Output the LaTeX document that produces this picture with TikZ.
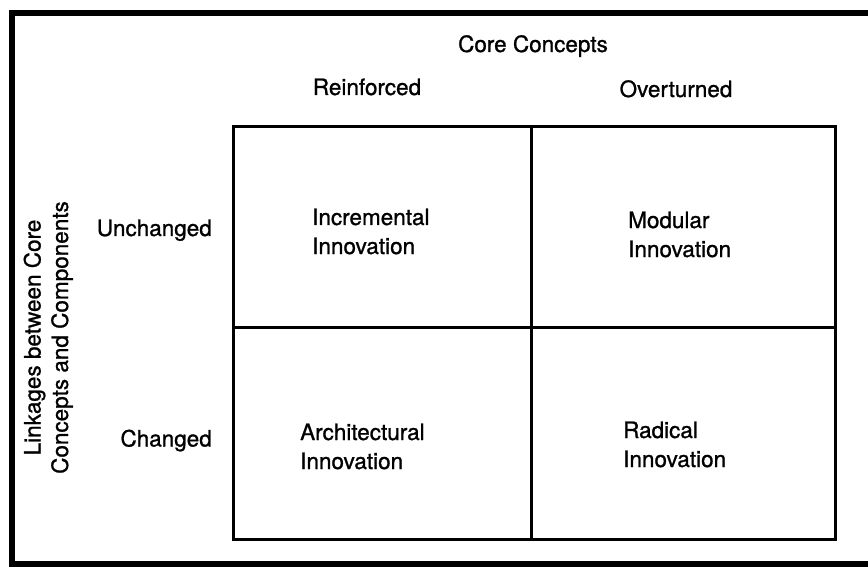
\documentclass[tikz,border=0pt]{standalone}
\usepackage{fontspec}
\setmainfont{TeX Gyre Heros}[FakeBold=1.0]
\begin{document}
\begin{tikzpicture}[x=1pt,y=-1pt,
  lbl/.style={inner sep=0pt, font=\fontsize{22.5}{29}\selectfont},
  cell/.style={lbl, align=left, anchor=base west},
  grid/.style={line width=3pt},
  frame/.style={line width=6pt}]
\useasboundingbox (0,0) rectangle (868,567);
\fill[white] (0,0) rectangle (868,567);
% outer frame (right side runs off the picture)
\draw[frame] (890,13.3) -- (12.2,13.3) -- (12.2,564.2) -- (890,564.2);
% matrix
\coordinate (tl) at (233.5,126.5);
\coordinate (br) at (835.5,539);
\draw[grid] (tl) rectangle (br);
\coordinate (mt) at (531.5,126.5);
\coordinate (mb) at (531.5,539);
\coordinate (ml) at (233.5,327);
\coordinate (mr) at (835.5,327);
\draw[grid] (mt) -- (mb);
\draw[grid] (ml) -- (mr);
% headings
\node[lbl, anchor=base] (core) at (533,52) {Core Concepts};
\node[lbl, anchor=base] (reinf) at (367,95) {Reinforced};
\node[lbl, anchor=base] (over) at (676,97) {Overturned};
\node[lbl, anchor=base east] (unch) at (212,236) {Unchanged};
\node[lbl, anchor=base east] (chg) at (212,446.5) {Changed};
\node[lbl, font=\fontsize{22.5}{27.5}\selectfont, rotate=90, align=center,
  anchor=north] (link) at (23.5,337.5)
  {Linkages between Core\\Concepts and Components};
% cells (base anchor = baseline of the second line)
\node[cell] (inc) at (312,254) {Incremental\\Innovation};
\node[cell] (mod) at (628,257) {Modular\\Innovation};
\node[cell] (arch) at (300,469) {Architectural\\Innovation};
\node[cell] (rad) at (623,467) {Radical\\Innovation};
\end{tikzpicture}
\end{document}
